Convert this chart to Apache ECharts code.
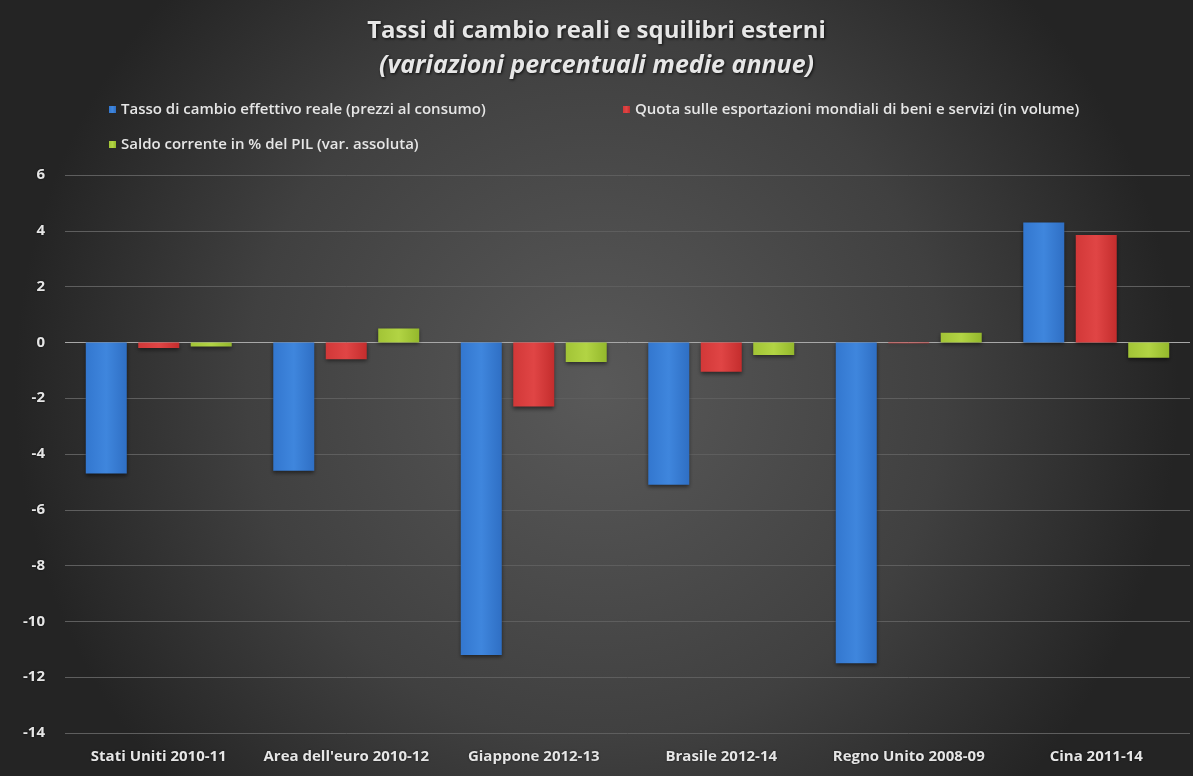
<!DOCTYPE html>
<html>
<head>
<meta charset="utf-8">
<style>
  html, body { margin: 0; padding: 0; background: #2b2b2b; }
  #chart { width: 1193px; height: 776px; }
</style>
<script src="https://cdn.jsdelivr.net/npm/echarts@6/dist/echarts.min.js"></script>
</head>
<body>
<div id="chart"></div>
<script>
// Periodi per paese
const categories = [
  'Stati Uniti 2010-11',
  'Area dell\'euro 2010-12',
  'Giappone 2012-13',
  'Brasile 2012-14',
  'Regno Unito 2008-09',
  'Cina 2011-14'
];

const seriesNames = [
  'Tasso di cambio effettivo reale (prezzi al consumo)',
  'Quota sulle esportazioni mondiali di beni e servizi (in volume)',
  'Saldo corrente in % del PIL (var. assoluta)'
];

// Variazioni percentuali medie annue
const cambioReale = [-4.7, -4.6, -11.2, -5.1, -11.5, 4.3];
const quotaExport = [-0.2, -0.6, -2.3, -1.05, -0.03, 3.85];
const saldoCorrente = [-0.15, 0.5, -0.7, -0.45, 0.35, -0.55];

const yTicks = { min: -14, max: 6, interval: 2 };

const titleText = 'Tassi di cambio reali e squilibri esterni';
const subtitleText = '(variazioni percentuali medie annue)';

const chart = echarts.init(document.getElementById('chart'));

const FONT = '"Open Sans", "Liberation Sans", sans-serif';
const textCol = '#e6e6e6';

function barFill(base, light, dark) {
  return new echarts.graphic.LinearGradient(0, 0, 1, 0, [
    { offset: 0, color: dark },
    { offset: 0.5, color: light },
    { offset: 1, color: base }
  ]);
}

const fills = [
  barFill('#2f6fc4', '#3f86dd', '#3377cf'),
  barFill('#c42d2d', '#e04545', '#d23838'),
  barFill('#94b82c', '#b2d444', '#a2c436')
];

// Gridline colours: the zero line is drawn lighter than the others
const splitColors = [];
for (let v = yTicks.min; v <= yTicks.max; v += yTicks.interval) {
  splitColors.push(v === 0 ? '#a8a8a8' : '#5e5e5e');
}

const legendBase = {
  itemWidth: 7,
  itemHeight: 7,
  itemGap: 4,
  icon: 'rect',
  textStyle: { color: textCol, fontSize: 15, fontFamily: FONT, fontWeight: 600 }
};

const shadowText = { textShadowColor: 'rgba(0,0,0,0.7)', textShadowBlur: 2 };

const option = {
  backgroundColor: new echarts.graphic.RadialGradient(0.5, 0.5, 0.75, [
    { offset: 0, color: '#595959' },
    { offset: 0.6, color: '#404040' },
    { offset: 1, color: '#242424' }
  ]),
  title: [
    {
      text: titleText,
      left: 'center',
      top: 14,
      textStyle: {
        color: textCol, fontSize: 24, fontWeight: 'bold', fontFamily: FONT,
        textShadowColor: 'rgba(0,0,0,0.8)', textShadowBlur: 3, textShadowOffsetX: 1, textShadowOffsetY: 1
      }
    },
    {
      text: subtitleText,
      left: 'center',
      top: 48,
      textStyle: {
        color: textCol, fontSize: 25, fontWeight: 'bold', fontStyle: 'italic', fontFamily: FONT,
        textShadowColor: 'rgba(0,0,0,0.8)', textShadowBlur: 3, textShadowOffsetX: 1, textShadowOffsetY: 1
      }
    }
  ],
  legend: [
    Object.assign({}, legendBase, { data: [seriesNames[0]], left: 104, top: 97 }),
    Object.assign({}, legendBase, { data: [seriesNames[1]], left: 618, top: 97 }),
    Object.assign({}, legendBase, { data: [seriesNames[2]], left: 104, top: 132 })
  ],
  grid: { left: 65, right: 3, top: 175, bottom: 43 },
  xAxis: {
    type: 'category',
    data: categories,
    axisLine: { show: false },
    axisTick: { show: false },
    axisLabel: Object.assign({
      color: textCol, fontSize: 15, fontWeight: 'bold', fontFamily: FONT, margin: 16,
      interval: 0
    }, shadowText)
  },
  yAxis: {
    type: 'value',
    min: yTicks.min,
    max: yTicks.max,
    interval: yTicks.interval,
    axisLine: { show: false },
    axisTick: { show: false },
    axisLabel: Object.assign({
      color: textCol, fontSize: 15, fontWeight: 'bold', fontFamily: FONT, margin: 20
    }, shadowText),
    splitLine: { lineStyle: { color: splitColors, width: 1 } }
  },
  series: [cambioReale, quotaExport, saldoCorrente].map((d, i) => ({
    name: seriesNames[i],
    type: 'bar',
    data: d,
    barWidth: 41,
    barGap: '28%',
    itemStyle: {
      color: fills[i],
      shadowColor: 'rgba(0,0,0,0.5)',
      shadowBlur: 4,
      shadowOffsetY: 2
    }
  })),
  animation: false
};

chart.setOption(option);
</script>
</body>
</html>
